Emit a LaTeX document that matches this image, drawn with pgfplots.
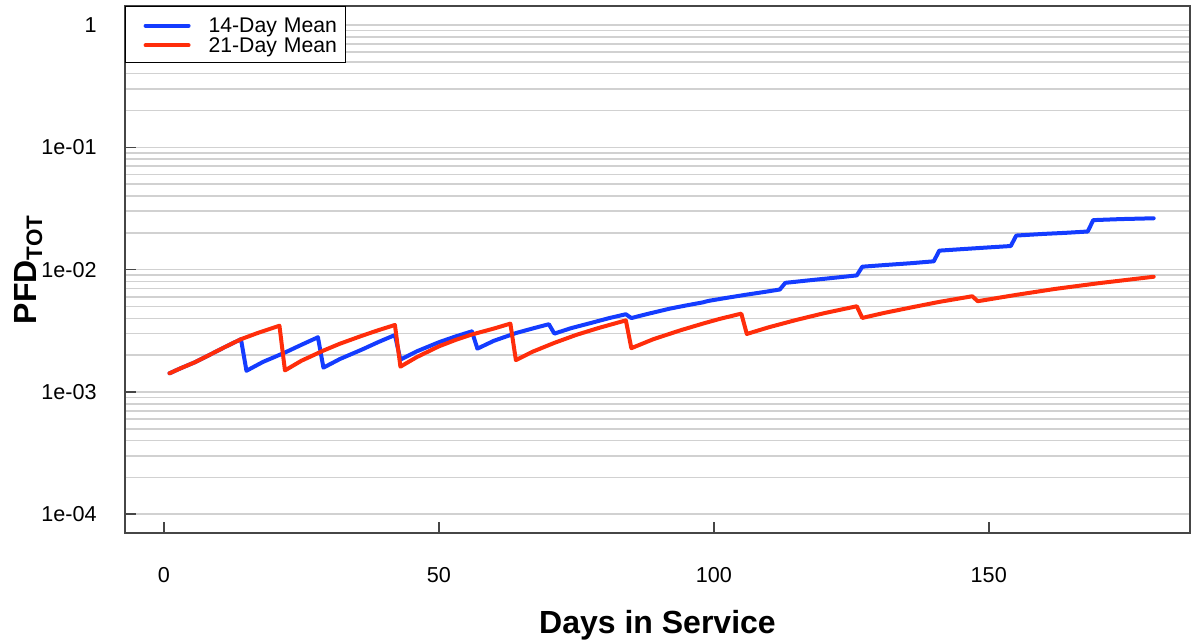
\documentclass[border=0pt]{standalone}
\usepackage{pgfplots}
\pgfplotsset{compat=1.18}
\usepackage{pgfplotstable}
\usepackage{fontspec}
\setmainfont{Liberation Sans}
\definecolor{bl}{RGB}{20,60,255}
\definecolor{rd}{RGB}{255,45,10}
\definecolor{frame}{RGB}{70,70,70}

\pgfplotstableread{
day val
1 1.42e-3
3 1.56e-3
5.5 1.74e-3
8 1.98e-3
11 2.32e-3
14 2.70e-3
15 1.49e-3
18 1.76e-3
22 2.10e-3
25 2.43e-3
28 2.80e-3
29 1.58e-3
32 1.86e-3
36 2.22e-3
39 2.56e-3
42 2.92e-3
43 1.84e-3
46 2.15e-3
50 2.55e-3
53 2.84e-3
56 3.13e-3
57 2.26e-3
60 2.62e-3
64 3.03e-3
67 3.30e-3
70 3.58e-3
71 3.00e-3
74 3.32e-3
78 3.70e-3
81 4.02e-3
84 4.32e-3
85 4.02e-3
88 4.35e-3
92 4.80e-3
95 5.10e-3
98 5.40e-3
99 5.55e-3
102 5.85e-3
106 6.25e-3
109 6.55e-3
112 6.88e-3
113 7.80e-3
117 8.15e-3
121 8.50e-3
126 8.97e-3
127 1.057e-2
131 1.09e-2
136 1.13e-2
140 1.17e-2
141 1.43e-2
145 1.47e-2
150 1.52e-2
154 1.56e-2
155 1.90e-2
160 1.96e-2
164 2.00e-2
168 2.05e-2
169 2.54e-2
174 2.59e-2
180 2.63e-2
}\fourteen

\pgfplotstableread{
day val
1 1.42e-3
3 1.56e-3
5.5 1.74e-3
8 1.98e-3
11 2.32e-3
14 2.70e-3
17 3.03e-3
21 3.48e-3
22 1.50e-3
25 1.80e-3
29 2.18e-3
32 2.48e-3
36 2.88e-3
39 3.20e-3
42 3.53e-3
43 1.61e-3
46 1.93e-3
50 2.36e-3
53 2.66e-3
56 2.95e-3
60 3.30e-3
63 3.62e-3
64 1.82e-3
67 2.13e-3
71 2.52e-3
75 2.93e-3
79 3.33e-3
84 3.85e-3
85 2.28e-3
89 2.70e-3
94 3.20e-3
98 3.62e-3
101 3.95e-3
105 4.37e-3
106 2.98e-3
110 3.38e-3
115 3.88e-3
120 4.40e-3
126 5.02e-3
127 4.03e-3
131 4.43e-3
136 4.92e-3
141 5.45e-3
147 6.06e-3
148 5.52e-3
155 6.22e-3
162 6.95e-3
170 7.75e-3
180 8.75e-3
}\twentyone

\begin{document}
\begin{tikzpicture}
\path[use as bounding box] (-62.5pt,-55pt) rectangle (535.5pt,266.5pt);
\begin{axis}[
  scale only axis,
  width=532.5pt, height=263.5pt,
  at={(0pt,0pt)}, anchor=south west,
  ymode=log,
  xmin=-7.09, xmax=186.6,
  ymin=7.03e-5, ymax=1.43,
  axis line style={frame, line width=0.8pt},
  xtick={0,50,100,150},
  xticklabels={0,50,100,150},
  ytick={1e-4,1e-3,1e-2,1e-1,1},
  yticklabels={1e-04,1e-03,1e-02,1e-01,1},
  tick align=inside,
  major tick length=5.5pt,
  minor tick length=0pt,
  tick style={frame, line width=0.8pt},
  xtick pos=bottom, ytick pos=left,
  ymajorgrids=true, yminorgrids=true,
  major grid style={black!18, line width=0.8pt},
  minor grid style={black!18, line width=0.8pt},
  tick label style={font=\fontsize{10.8}{12}\selectfont},
  x tick label style={anchor=north, inner sep=0pt, yshift=-17pt},
  y tick label style={anchor=east, inner sep=0pt, xshift=-14pt},
  xlabel={\textbf{Days in Service}},
  xlabel style={at={(axis description cs:0.5,0)}, anchor=base, yshift=-50pt, font=\fontsize{16}{18}\selectfont},
  ylabel={\textbf{PFD\textsubscript{TOT}}},
  ylabel style={at={([xshift=-44pt]axis description cs:0,0.5)}, anchor=base, font=\fontsize{16}{18}\selectfont},
  legend style={at={(axis description cs:0,1)}, anchor=north west, draw=black, line width=0.6pt, fill=white,
    inner xsep=0pt, inner ysep=4.6pt, row sep=0.8pt, column sep=9pt,
    font=\fontsize{10.6}{12}\selectfont,
    nodes={inner sep=0pt, text height=8.4pt, text depth=0.6pt, text width=68.5pt, align=left}},
  legend cell align=left,
  legend image code/.code={\path (0pt,-0.4pt); \draw[#1] (9pt,-0.4pt) -- (30.5pt,-0.4pt);},
]
\addplot[bl, line width=2pt, line join=round, line cap=round] table[x=day, y=val] {\fourteen};
\addlegendentry{14-Day Mean}
\addplot[rd, line width=2pt, line join=round, line cap=round] table[x=day, y=val] {\twentyone};
\addlegendentry{21-Day Mean}
\end{axis}
\end{tikzpicture}
\end{document}
